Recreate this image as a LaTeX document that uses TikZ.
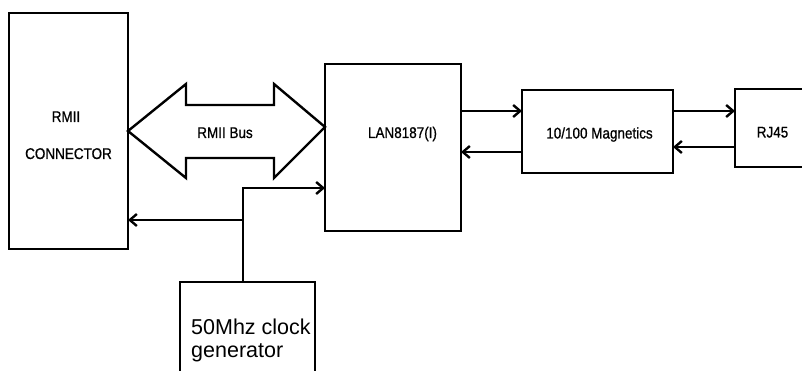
\documentclass[tikz,border=0pt]{standalone}
\usepackage{fontspec}
\setmainfont{Liberation Sans}
\newfontfamily\narrowfont[FakeStretch=0.87,FakeBold=0.8]{Liberation Sans}
\usetikzlibrary{arrows.meta}
\begin{document}
\begin{tikzpicture}[x=1pt,y=-1pt,
  lw/.style={line width=2.4pt},
  blk/.style={draw,lw,rectangle,inner sep=0pt,outer sep=0pt},
  lbl/.style={anchor=base,inner sep=0pt,font=\narrowfont\fontsize{15.5}{18}\selectfont},
  clk/.style={anchor=base west,inner sep=0pt,font=\fontsize{21.5}{23}\selectfont},
  sig/.style={lw,-{Straight Barb[length=7pt,width=12pt,line width=2.4pt]}}]
\clip (0,0) rectangle (802,371);
\fill[white] (0,0) rectangle (802,371);
% blocks
\node[blk,minimum width=119pt,minimum height=236pt] (rmii) at (68.5,131) {};
\node[blk,minimum width=136pt,minimum height=167pt] (lan) at (393,147.5) {};
\node[blk,minimum width=151pt,minimum height=83pt] (mag) at (597.5,131.5) {};
\node[blk,minimum width=100pt,minimum height=78pt] (rj) at (785,128) {};
\node[blk,minimum width=135pt,minimum height=118pt] (clock) at (247.5,341) {};
% labels
\node[lbl] (t1) at (66,122) {RMII};
\node[lbl] (t2) at (68.5,159) {CONNECTOR};
\node[lbl] (t3) at (225,138) {RMII Bus};
\node[lbl] (t4) at (402.5,138) {LAN8187(I)};
\node[lbl] (t5) at (599.5,138.5) {10/100 Magnetics};
\node[lbl] (t6) at (772.5,137.5) {RJ45};
\node[clk] (c1) at (191,334) {50Mhz clock};
\node[clk] (c2) at (191,357) {generator};
% RMII bus double arrow
\draw[lw,line join=miter] (rmii.east) -- (186,84) -- (186,105) -- (274,105) -- (274,84)
  -- ([yshift=20.5pt]lan.west) -- (274,178) -- (274,158) -- (186,158) -- (186,178) -- cycle;
% signal arrows
\coordinate (a1) at (461,111);
\coordinate (a2) at (461,152);
\coordinate (a3) at (673,111);
\coordinate (a4) at (673,147);
\draw[sig] (a1) -- (a1 -| mag.west);
\draw[sig] (a2 -| mag.west) -- (a2);
\draw[sig] (a3) -- (a3 -| rj.west);
\draw[sig] (a4 -| rj.west) -- (a4);
% clock distribution
\coordinate (ctop) at (243,188);
\coordinate (cmid) at (243,220);
\draw[sig] (clock.north -| ctop) -- (ctop) -- (ctop -| lan.west);
\draw[sig] (cmid) -- (cmid -| rmii.east);
\end{tikzpicture}
\end{document}
